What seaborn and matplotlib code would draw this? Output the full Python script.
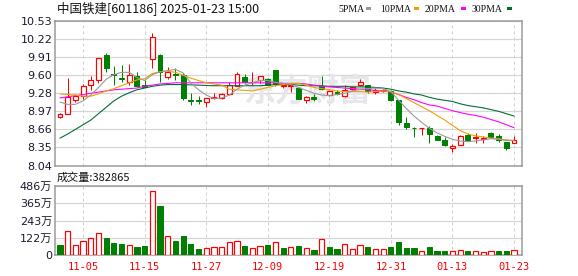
import numpy as np
import matplotlib
matplotlib.use("Agg")
import matplotlib.pyplot as plt
from matplotlib.patches import Rectangle
import seaborn as sns

# ---------------- data ----------------
dates = ["10-31", "11-01", "11-04", "11-05", "11-06", "11-07", "11-08", "11-11", "11-12", "11-13",
         "11-14", "11-15", "11-18", "11-19", "11-20", "11-21", "11-22", "11-25", "11-26", "11-27",
         "11-28", "11-29", "12-02", "12-03", "12-04", "12-05", "12-06", "12-09", "12-10", "12-11",
         "12-12", "12-13", "12-16", "12-17", "12-18", "12-19", "12-20", "12-23", "12-24", "12-25",
         "12-26", "12-27", "12-30", "12-31", "01-02", "01-03", "01-06", "01-07", "01-08", "01-09",
         "01-10", "01-13", "01-14", "01-15", "01-16", "01-17", "01-20", "01-21", "01-22", "01-23"]

open_ = [8.88, 8.93, 9.16, 9.24, 9.42, 9.50, 9.94, 9.61, 9.54, 9.48,
         9.58, 9.43, 9.87, 9.94, 9.56, 9.61, 9.60, 9.16, 9.17, 9.13,
         9.20, 9.20, 9.27, 9.41, 9.56, 9.47, 9.51, 9.52, 9.68, 9.40,
         9.41, 9.37, 9.16, 9.22, 9.41, 9.25, 9.31, 9.24, 9.35, 9.42,
         9.42, 9.31, 9.32, 9.32, 9.17, 8.77, 8.69, 8.68, 8.68, 8.55,
         8.48, 8.34, 8.39, 8.57, 8.51, 8.50, 8.59, 8.55, 8.45, 8.43]
high = [8.95, 9.55, 9.27, 9.44, 9.58, 9.89, 9.98, 9.75, 9.77, 9.78,
        9.64, 9.50, 10.32, 9.95, 9.73, 9.71, 9.62, 9.29, 9.23, 9.20,
        9.29, 9.29, 9.48, 9.64, 9.61, 9.64, 9.58, 9.54, 9.68, 9.45,
        9.42, 9.37, 9.24, 9.26, 9.58, 9.34, 9.33, 9.42, 9.40, 9.53,
        9.43, 9.37, 9.36, 9.34, 9.17, 8.87, 8.70, 8.69, 8.71, 8.57,
        8.53, 8.41, 8.57, 8.59, 8.59, 8.55, 8.61, 8.58, 8.45, 8.55]
low = [8.86, 8.92, 9.13, 9.18, 9.34, 9.45, 9.65, 9.42, 9.47, 9.42,
       9.39, 9.38, 9.72, 9.48, 9.53, 9.51, 9.17, 9.08, 9.10, 9.05,
       9.19, 9.18, 9.25, 9.40, 9.45, 9.42, 9.46, 9.42, 9.41, 9.37,
       9.31, 9.18, 9.11, 9.15, 9.33, 9.24, 9.25, 9.22, 9.33, 9.40,
       9.28, 9.27, 9.30, 9.15, 8.74, 8.67, 8.53, 8.57, 8.43, 8.47,
       8.38, 8.27, 8.39, 8.47, 8.43, 8.43, 8.53, 8.45, 8.30, 8.43]
close = [8.92, 9.22, 9.24, 9.40, 9.50, 9.88, 9.71, 9.60, 9.53, 9.60,
         9.41, 9.39, 10.25, 9.65, 9.65, 9.59, 9.20, 9.15, 9.15, 9.20,
         9.21, 9.26, 9.42, 9.61, 9.48, 9.48, 9.57, 9.43, 9.44, 9.43,
         9.42, 9.18, 9.21, 9.18, 9.36, 9.32, 9.27, 9.33, 9.39, 9.47,
         9.32, 9.33, 9.34, 9.17, 8.78, 8.70, 8.68, 8.69, 8.58, 8.48,
         8.39, 8.38, 8.55, 8.48, 8.53, 8.51, 8.53, 8.47, 8.34, 8.48]

ma5 = [9.13, 9.09, 9.09, 9.15, 9.25, 9.38, 9.52, 9.60, 9.64, 9.64,
       9.55, 9.50, 9.60, 9.65, 9.67, 9.69, 9.63, 9.46, 9.34, 9.25,
       9.19, 9.20, 9.25, 9.35, 9.42, 9.46, 9.50, 9.50, 9.47, 9.45,
       9.43, 9.38, 9.33, 9.28, 9.25, 9.24, 9.26, 9.28, 9.32, 9.35,
       9.36, 9.37, 9.36, 9.31, 9.16, 9.02, 8.89, 8.78, 8.68, 8.60,
       8.54, 8.49, 8.46, 8.45, 8.46, 8.48, 8.50, 8.49, 8.47, 8.47]
ma10 = [9.27, 9.26, 9.25, 9.23, 9.23, 9.27, 9.32, 9.36, 9.41, 9.46,
        9.51, 9.53, 9.62, 9.65, 9.66, 9.64, 9.59, 9.54, 9.50, 9.46,
        9.44, 9.42, 9.35, 9.34, 9.33, 9.32, 9.35, 9.38, 9.41, 9.43,
        9.45, 9.45, 9.42, 9.38, 9.36, 9.34, 9.32, 9.31, 9.31, 9.31,
        9.30, 9.31, 9.32, 9.31, 9.26, 9.19, 9.12, 9.05, 8.98, 8.90,
        8.82, 8.73, 8.64, 8.58, 8.55, 8.53, 8.51, 8.50, 8.48, 8.47]
ma20 = [9.20, 9.22, 9.24, 9.26, 9.28, 9.30, 9.32, 9.34, 9.35, 9.36,
        9.37, 9.40, 9.42, 9.44, 9.45, 9.46, 9.46, 9.46, 9.46, 9.46,
        9.46, 9.46, 9.46, 9.46, 9.46, 9.46, 9.46, 9.46, 9.46, 9.45,
        9.45, 9.45, 9.44, 9.42, 9.40, 9.39, 9.38, 9.37, 9.36, 9.35,
        9.34, 9.33, 9.32, 9.30, 9.26, 9.21, 9.17, 9.12, 9.08, 9.06,
        9.02, 8.98, 8.95, 8.92, 8.90, 8.87, 8.83, 8.79, 8.74, 8.69]
ma30 = [8.51, 8.58, 8.66, 8.74, 8.82, 8.93, 9.04, 9.15, 9.23, 9.29,
        9.34, 9.37, 9.40, 9.42, 9.43, 9.43, 9.43, 9.425, 9.42, 9.415,
        9.41, 9.41, 9.41, 9.41, 9.41, 9.41, 9.41, 9.42, 9.43, 9.43,
        9.43, 9.42, 9.41, 9.41, 9.41, 9.40, 9.40, 9.40, 9.39, 9.39,
        9.39, 9.38, 9.37, 9.35, 9.32, 9.30, 9.27, 9.25, 9.21, 9.18,
        9.16, 9.14, 9.10, 9.07, 9.05, 9.03, 9.00, 8.97, 8.93, 8.89]

# volume in 万 (10k); direction 1 = red, 0 = green (as drawn)
volume = [72, 171, 70, 98, 119, 154, 122, 84, 77, 70,
          58, 65, 451, 346, 133, 103, 136, 79, 45, 51,
          56, 56, 91, 98, 65, 49, 63, 72, 91, 51,
          56, 65, 49, 37, 112, 56, 44, 77, 42, 70,
          56, 42, 42, 58, 93, 51, 51, 28, 58, 30,
          30, 28, 35, 30, 28, 21, 28, 30, 30, 38.29]
vol_up = [0, 1, 1, 1, 1, 1, 0, 0, 0, 1,
          0, 0, 1, 0, 1, 0, 0, 0, 0, 1,
          1, 1, 1, 1, 0, 1, 1, 0, 1, 0,
          1, 0, 1, 0, 1, 0, 0, 1, 1, 1,
          0, 1, 1, 0, 0, 0, 0, 1, 0, 0,
          0, 1, 1, 0, 1, 1, 1, 0, 0, 1]

price_ticks = [8.04, 8.35, 8.66, 8.97, 9.28, 9.60, 9.91, 10.22, 10.53]
price_labels = ["8.04", "8.35", "8.66", "8.97", "9.28", "9.60", "9.91", "10.22", "10.53"]
vol_ticks = [0, 121.5, 243, 364.5, 486]
vol_labels = ["0", "122万", "243万", "365万", "486万"]
date_ticks = ["11-05", "11-15", "11-27", "12-09", "12-19", "12-31", "01-13", "01-23"]

title = "中国铁建[601186] 2025-01-23 15:00"
vol_title = "成交量:382865"
ma_names = ["5PMA", "10PMA", "20PMA", "30PMA"]

# ---------------- style ----------------
sns.set_theme(style="white")
plt.rcParams['font.family'] = ['DejaVu Sans', 'Noto Sans CJK SC']

RED = "#ff0000"
GREEN = "#008000"
MA_COLORS = ["#999999", "#f0a000", "#ff00ff", "#006e32"]
GRID = "#d6d6d6"
BORDER = "#999999"
PX = 72 / 100.0  # one pixel in points

W, H = 578, 276
fig = plt.figure(figsize=(W / 100, H / 100), dpi=100)
fig.patch.set_facecolor("white")


def rect(x0, y0, x1, y1):
    return [x0 / W, 1 - y1 / H, (x1 - x0) / W, (y1 - y0) / H]


ax = fig.add_axes(rect(55, 20.5, 522, 165.5))
axv = fig.add_axes(rect(55, 186, 522, 255.3))

n = len(close)
x = np.arange(n)
O = np.array(open_)
C = np.array(close)
Hh = np.array(high)
Ll = np.array(low)
up = C >= O
xlim = (-0.65, 60.04)

tick_pos = [dates.index(d) for d in date_ticks]

for a in (ax, axv):
    a.set_facecolor("white")
    a.set_xlim(*xlim)
    a.set_xticks(tick_pos)
    a.xaxis.grid(True, color="#cfcfcf", lw=1 * PX, ls=(0, (3, 3)), zorder=0)
    a.yaxis.grid(True, color=GRID, lw=1.2 * PX, zorder=0)
    a.set_axisbelow(True)
    for s in a.spines.values():
        s.set_color(BORDER)
        s.set_linewidth(1.5 * PX)
    a.tick_params(axis="both", length=0, pad=2)
    a.set_xlabel("")
    a.set_ylabel("")

# watermark
ax.text(0.54, 0.5, "东方财富", transform=ax.transAxes, ha="center", va="center",
        fontsize=23, fontweight="bold", color="#e6e7ea", family=["Noto Sans CJK SC"], zorder=1)

# candles: wicks
wick_colors = [RED if u else GREEN for u in up]
ax.vlines(x, Ll, Hh, colors=wick_colors, lw=1 * PX, zorder=2)
bw = 0.64
h_up = np.maximum(C[up] - O[up], 0.004)
ax.bar(x[up], h_up, bottom=O[up], width=bw, facecolor="white", edgecolor=RED,
       linewidth=1.2 * PX, zorder=3)
h_dn = np.maximum(O[~up] - C[~up], 0.004)
ax.bar(x[~up], h_dn, bottom=C[~up], width=bw, facecolor=GREEN, edgecolor=GREEN,
       linewidth=1 * PX, zorder=3)

# moving averages via seaborn
for series, col in zip([ma30, ma20, ma10, ma5], MA_COLORS[::-1]):
    sns.lineplot(x=x, y=series, ax=ax, color=col, lw=1.1 * PX, zorder=4, legend=False)

ax.set_ylim(price_ticks[0], price_ticks[-1])
ax.set_yticks(price_ticks)
ax.set_yticklabels(price_labels, fontsize=8, color="#1a1a2e")
ax.set_xticklabels([])
ax.set_xlabel("")
ax.set_ylabel("")

# volume
vu = np.array(vol_up).astype(bool)
V = np.array(volume, dtype=float)
axv.bar(x[vu], V[vu], width=0.68, facecolor="white", edgecolor=RED, linewidth=1.2 * PX, zorder=3)
axv.bar(x[~vu], V[~vu], width=0.68, facecolor=GREEN, edgecolor=GREEN, linewidth=1 * PX, zorder=3)
axv.set_ylim(0, 486)
axv.set_yticks(vol_ticks)
axv.set_yticklabels(vol_labels, fontsize=8, color="#1a1a2e")
axv.set_xticklabels(date_ticks, fontsize=7.5, color=RED, family=["DejaVu Sans Mono"])
axv.tick_params(axis="x", pad=5)
axv.set_xlabel("")
axv.set_ylabel("")

# header texts
fig.text(57 / W, 1 - 8.5 / H, title, ha="left", va="center", fontsize=9,
         color="#111111", family=["Noto Sans CJK SC", "DejaVu Sans"])
fig.text(57 / W, 1 - 177.5 / H, vol_title, ha="left", va="center", fontsize=8,
         color="#111111", family=["Noto Sans CJK SC", "DejaVu Sans"])

# legend
leg_text_x = [338, 380, 425, 472]
leg_sq_x = [366, 414, 461, 507]
for name, col, tx, sx in zip(ma_names, MA_COLORS, leg_text_x, leg_sq_x):
    fig.text(tx / W, 1 - 9 / H, name, ha="left", va="center", fontsize=7,
             color="#111111", family=["Liberation Serif", "DejaVu Serif"])
    fig.patches.append(Rectangle((sx / W, 1 - 10.2 / H), 5 / W, 3 / H,
                                 transform=fig.transFigure, facecolor=col,
                                 edgecolor="none", figure=fig))

fig.savefig("out.png", dpi=100, facecolor="white")
